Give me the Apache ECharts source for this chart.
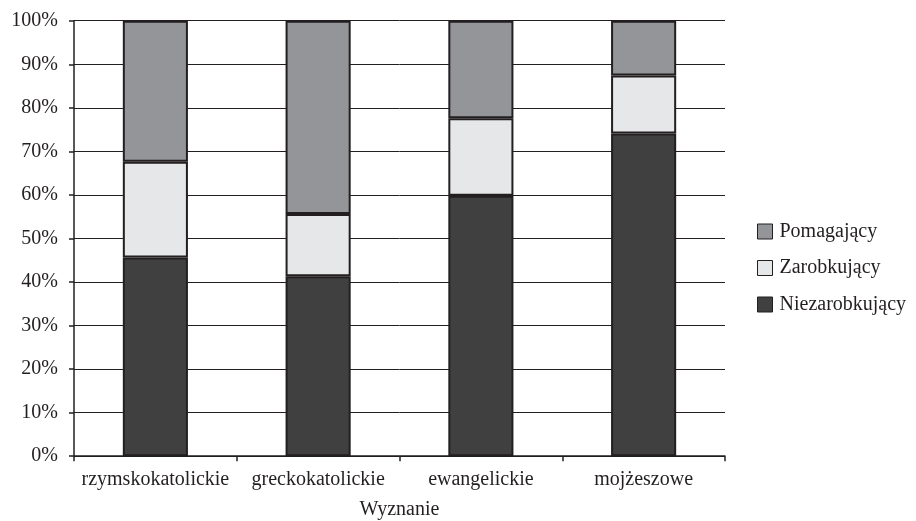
<!DOCTYPE html>
<html><head><meta charset="utf-8">
<script src="https://cdn.jsdelivr.net/npm/echarts@6/dist/echarts.min.js"></script>
<style>html,body{margin:0;padding:0;background:#fff}#c{width:916px;height:521px}</style>
</head><body><div id="c"></div>
<script>
const categories = ['rzymskokatolickie', 'greckokatolickie', 'ewangelickie', 'mojżeszowe'];
const niezarobkujacy = [45.6, 41.3, 59.8, 74.1];
const zarobkujacy = [22.0, 14.3, 17.8, 13.3];
const pomagajacy = [32.4, 44.4, 22.4, 12.6];
const axisName = 'Wyznanie';

const FONT = '"Liberation Serif", "Times New Roman", serif';
const chart = echarts.init(document.getElementById('c'), null, {renderer: 'canvas'});
const border = {borderColor: '#231f20', borderWidth: 2};
function mk(name, data, color) {
  return {name, type: 'bar', stack: 'total', data, barWidth: '40%',
    itemStyle: Object.assign({color}, border), emphasis: {disabled: true}};
}
chart.setOption({
  animation: false,
  textStyle: {fontFamily: FONT},
  grid: {left: 74, right: 191, top: 20.7, bottom: 64.8, containLabel: false, outerBoundsMode: 'none'},
  legend: {
    orient: 'vertical', left: 757, top: 221.5, padding: 0, itemWidth: 15, itemHeight: 15, itemGap: 16.5,
    icon: 'rect',
    data: ['Pomagający', 'Zarobkujący', 'Niezarobkujący'],
    textStyle: {fontFamily: FONT, fontSize: 20, color: '#231f20', padding: [0, 0, 0, 2]},
    itemStyle: {borderColor: '#231f20', borderWidth: 1}
  },
  xAxis: {
    type: 'category', data: categories,
    name: axisName, nameLocation: 'middle', nameGap: 44,
    nameTextStyle: {fontFamily: FONT, fontSize: 20, color: '#231f20'},
    axisLine: {lineStyle: {color: '#231f20', width: 1.5}},
    axisTick: {show: true, length: 5, lineStyle: {color: '#231f20', width: 1.5}},
    axisLabel: {fontFamily: FONT, fontSize: 20, color: '#231f20', margin: 14, interval: 0}
  },
  yAxis: {
    type: 'value', min: 0, max: 100, interval: 10,
    axisLine: {show: true, lineStyle: {color: '#231f20', width: 1.5}},
    axisTick: {show: true, length: 5, lineStyle: {color: '#231f20', width: 1.5}},
    splitLine: {lineStyle: {color: '#231f20', width: 1}},
    axisLabel: {fontFamily: FONT, fontSize: 20, color: '#231f20', margin: 16, formatter: '{value}%'}
  },
  series: [
    mk('Niezarobkujący', niezarobkujacy, '#404041'),
    mk('Zarobkujący', zarobkujacy, '#e6e7e8'),
    mk('Pomagający', pomagajacy, '#939598')
  ]
});
</script></body></html>
